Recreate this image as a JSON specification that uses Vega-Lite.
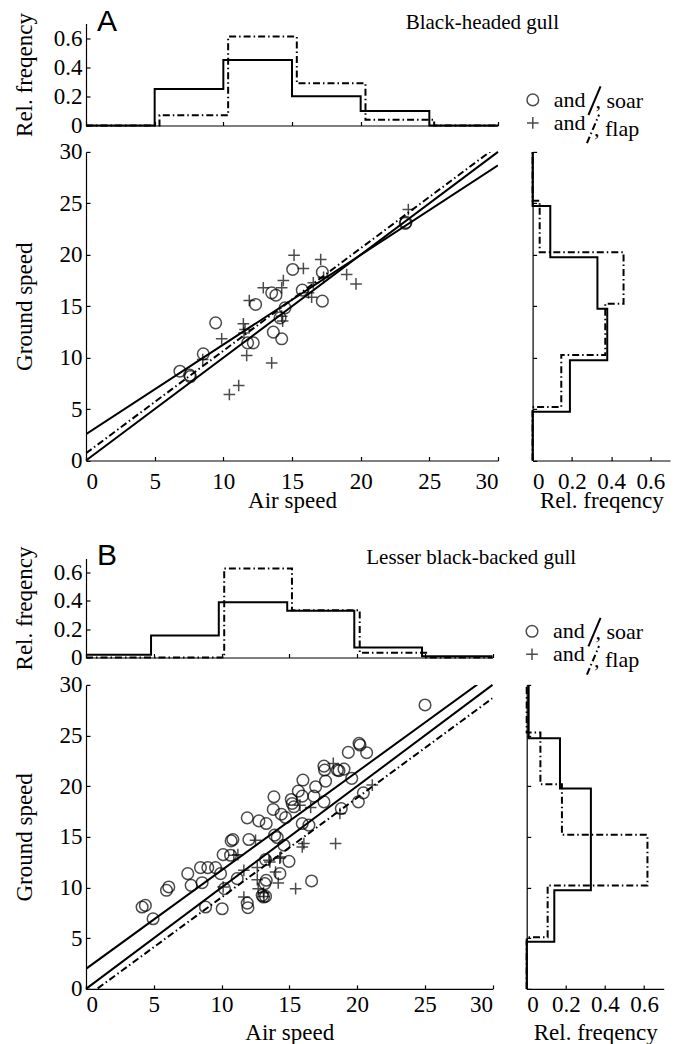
{
  "$schema": "https://vega.github.io/schema/vega-lite/v6.json",
  "background": "white",
  "padding": {"left": 13, "top": 6.5, "right": 2, "bottom": 0},
  "config": {
    "view": {"stroke": null},
    "font": "Liberation Serif",
    "axis": {"domainColor": "black", "tickColor": "black", "labelColor": "black", "titleColor": "black", "labelFont": "Liberation Serif", "titleFont": "Liberation Serif", "labelFontSize": 23, "titleFontSize": 23, "titleFontWeight": "normal", "grid": false, "tickSize": -4, "domainWidth": 1.2, "tickWidth": 1.2, "labelPadding": 8},
    "legend": {"labelFont": "Liberation Serif", "labelFontSize": 22, "labelColor": "black"},
    "title": {"font": "Liberation Serif", "fontSize": 21, "fontWeight": "normal", "color": "black"}
  },
  "datasets": {
    "topA": [
      {"type": "soar", "air": 0, "freq": 0}, {"type": "soar", "air": 5, "freq": 0.25}, {"type": "soar", "air": 10, "freq": 0.45}, {"type": "soar", "air": 15, "freq": 0.2}, {"type": "soar", "air": 20, "freq": 0.1}, {"type": "soar", "air": 25, "freq": 0}, {"type": "soar", "air": 30, "freq": 0},
      {"type": "flap", "air": 0, "freq": 0}, {"type": "flap", "air": 5.35, "freq": 0.07}, {"type": "flap", "air": 10.35, "freq": 0.61}, {"type": "flap", "air": 15.35, "freq": 0.29}, {"type": "flap", "air": 20.35, "freq": 0.04}, {"type": "flap", "air": 25.35, "freq": 0}, {"type": "flap", "air": 30, "freq": 0}
    ],
    "rightA": [
      {"type": "soar", "ground": 0, "freq": 0}, {"type": "soar", "ground": 4.75, "freq": 0.19}, {"type": "soar", "ground": 9.75, "freq": 0.38}, {"type": "soar", "ground": 14.75, "freq": 0.33}, {"type": "soar", "ground": 19.75, "freq": 0.09}, {"type": "soar", "ground": 24.75, "freq": 0}, {"type": "soar", "ground": 30, "freq": 0},
      {"type": "flap", "ground": 0, "freq": 0}, {"type": "flap", "ground": 5.2, "freq": 0.146}, {"type": "flap", "ground": 10.25, "freq": 0.37}, {"type": "flap", "ground": 15.25, "freq": 0.463}, {"type": "flap", "ground": 20.25, "freq": 0.036}, {"type": "flap", "ground": 25.25, "freq": 0}, {"type": "flap", "ground": 30, "freq": 0}
    ],
    "fitA": [
      {"fit": "soaring", "air": 0, "ground": 2.55}, {"fit": "soaring", "air": 30, "ground": 28.7},
      {"fit": "flapping", "air": 0, "ground": 0.7}, {"fit": "flapping", "air": 30, "ground": 30.6}
    ],
    "identity": [{"air": 0, "ground": 0}, {"air": 30, "ground": 30}],
    "scatA": [
      {"type": "soar", "air": 6.84, "ground": 8.68}, {"type": "soar", "air": 7.55, "ground": 8.3}, {"type": "soar", "air": 7.6, "ground": 8.15}, {"type": "soar", "air": 8.54, "ground": 10.37}, {"type": "soar", "air": 9.44, "ground": 13.38}, {"type": "soar", "air": 11.77, "ground": 11.44}, {"type": "soar", "air": 12.18, "ground": 11.44}, {"type": "soar", "air": 12.35, "ground": 15.17}, {"type": "soar", "air": 13.52, "ground": 16.3}, {"type": "soar", "air": 13.83, "ground": 16.07}, {"type": "soar", "air": 13.64, "ground": 12.48}, {"type": "soar", "air": 14.25, "ground": 11.83}, {"type": "soar", "air": 14.13, "ground": 13.87}, {"type": "soar", "air": 14.49, "ground": 14.84}, {"type": "soar", "air": 15.05, "ground": 18.57}, {"type": "soar", "air": 15.75, "ground": 16.56}, {"type": "soar", "air": 17.21, "ground": 18.31}, {"type": "soar", "air": 17.21, "ground": 15.49}, {"type": "soar", "air": 23.25, "ground": 23.05}, {"type": "soar", "air": 23.3, "ground": 23.15},
      {"type": "flap", "air": 8.5, "ground": 9.82}, {"type": "flap", "air": 9.88, "ground": 11.83}, {"type": "flap", "air": 10.44, "ground": 6.42}, {"type": "flap", "air": 11.12, "ground": 7.29}, {"type": "flap", "air": 11.46, "ground": 13.29}, {"type": "flap", "air": 11.58, "ground": 12.73}, {"type": "flap", "air": 11.7, "ground": 10.21}, {"type": "flap", "air": 11.89, "ground": 15.55}, {"type": "flap", "air": 12.91, "ground": 16.79}, {"type": "flap", "air": 13.52, "ground": 9.49}, {"type": "flap", "air": 14.25, "ground": 16.79}, {"type": "flap", "air": 14.37, "ground": 17.5}, {"type": "flap", "air": 14.25, "ground": 14.03}, {"type": "flap", "air": 14.32, "ground": 13.55}, {"type": "flap", "air": 15.15, "ground": 19.96}, {"type": "flap", "air": 15.83, "ground": 18.66}, {"type": "flap", "air": 16.43, "ground": 15.88}, {"type": "flap", "air": 16.55, "ground": 17.27}, {"type": "flap", "air": 17.09, "ground": 19.54}, {"type": "flap", "air": 18.98, "ground": 18.08}, {"type": "flap", "air": 19.66, "ground": 17.17}, {"type": "flap", "air": 23.47, "ground": 24.4}, {"type": "flap", "air": 11.5, "ground": 12.4}, {"type": "flap", "air": 16.2, "ground": 16.3}, {"type": "flap", "air": 17.3, "ground": 17.8}
    ],
    "topB": [
      {"type": "soar", "air": 0, "freq": 0.02}, {"type": "soar", "air": 4.8, "freq": 0.155}, {"type": "soar", "air": 9.8, "freq": 0.39}, {"type": "soar", "air": 14.85, "freq": 0.33}, {"type": "soar", "air": 19.8, "freq": 0.07}, {"type": "soar", "air": 24.8, "freq": 0.008}, {"type": "soar", "air": 30, "freq": 0.008},
      {"type": "flap", "air": 0, "freq": 0}, {"type": "flap", "air": 10.2, "freq": 0.63}, {"type": "flap", "air": 15.2, "freq": 0.334}, {"type": "flap", "air": 20.2, "freq": 0.033}, {"type": "flap", "air": 25.1, "freq": 0}, {"type": "flap", "air": 30, "freq": 0}
    ],
    "rightB": [
      {"type": "soar", "ground": 0, "freq": 0}, {"type": "soar", "ground": 4.65, "freq": 0.141}, {"type": "soar", "ground": 9.73, "freq": 0.328}, {"type": "soar", "ground": 14.73, "freq": 0.328}, {"type": "soar", "ground": 19.78, "freq": 0.17}, {"type": "soar", "ground": 24.73, "freq": 0.01}, {"type": "soar", "ground": 30, "freq": 0.01},
      {"type": "flap", "ground": 0, "freq": 0}, {"type": "flap", "ground": 5.1, "freq": 0.107}, {"type": "flap", "ground": 10.2, "freq": 0.617}, {"type": "flap", "ground": 15.2, "freq": 0.18}, {"type": "flap", "ground": 20.2, "freq": 0.07}, {"type": "flap", "ground": 25.3, "freq": 0}, {"type": "flap", "ground": 30, "freq": 0}
    ],
    "fitB": [
      {"fit": "soaring", "air": 0, "ground": 1.98}, {"fit": "soaring", "air": 30, "ground": 31.13},
      {"fit": "flapping", "air": 0, "ground": -0.8}, {"fit": "flapping", "air": 30, "ground": 28.68}
    ],
    "scatB": [
      {"type": "soar", "air": 4.14, "ground": 8.08}, {"type": "soar", "air": 4.38, "ground": 8.24}, {"type": "soar", "air": 4.95, "ground": 6.92}, {"type": "soar", "air": 5.94, "ground": 9.73}, {"type": "soar", "air": 6.11, "ground": 10.06}, {"type": "soar", "air": 7.51, "ground": 11.37}, {"type": "soar", "air": 7.76, "ground": 10.22}, {"type": "soar", "air": 8.45, "ground": 11.97}, {"type": "soar", "air": 8.57, "ground": 10.48}, {"type": "soar", "air": 8.99, "ground": 11.97}, {"type": "soar", "air": 9.56, "ground": 11.97}, {"type": "soar", "air": 9.93, "ground": 11.37}, {"type": "soar", "air": 8.82, "ground": 8.08}, {"type": "soar", "air": 10.05, "ground": 7.91}, {"type": "soar", "air": 10.12, "ground": 13.25}, {"type": "soar", "air": 10.22, "ground": 9.89}, {"type": "soar", "air": 10.67, "ground": 13.19}, {"type": "soar", "air": 10.71, "ground": 14.61}, {"type": "soar", "air": 10.84, "ground": 14.74}, {"type": "soar", "air": 11.16, "ground": 10.88}, {"type": "soar", "air": 11.9, "ground": 16.88}, {"type": "soar", "air": 12.02, "ground": 14.74}, {"type": "soar", "air": 11.9, "ground": 8.47}, {"type": "soar", "air": 11.95, "ground": 8.01}, {"type": "soar", "air": 12.76, "ground": 16.58}, {"type": "soar", "air": 13.3, "ground": 16.32}, {"type": "soar", "air": 13.25, "ground": 12.76}, {"type": "soar", "air": 13.3, "ground": 10.72}, {"type": "soar", "air": 13.2, "ground": 10.39}, {"type": "soar", "air": 13.0, "ground": 9.23}, {"type": "soar", "air": 13.25, "ground": 9.13}, {"type": "soar", "air": 13.1, "ground": 9.07}, {"type": "soar", "air": 13.82, "ground": 17.71}, {"type": "soar", "air": 13.87, "ground": 18.96}, {"type": "soar", "air": 13.92, "ground": 15.17}, {"type": "soar", "air": 14.11, "ground": 14.94}, {"type": "soar", "air": 14.31, "ground": 11.37}, {"type": "soar", "air": 14.41, "ground": 17.24}, {"type": "soar", "air": 14.61, "ground": 14.18}, {"type": "soar", "air": 14.73, "ground": 16.91}, {"type": "soar", "air": 14.98, "ground": 12.59}, {"type": "soar", "air": 15.15, "ground": 18.69}, {"type": "soar", "air": 15.22, "ground": 18.3}, {"type": "soar", "air": 15.34, "ground": 17.97}, {"type": "soar", "air": 15.67, "ground": 19.52}, {"type": "soar", "air": 15.96, "ground": 19.02}, {"type": "soar", "air": 16.01, "ground": 20.61}, {"type": "soar", "air": 15.96, "ground": 16.32}, {"type": "soar", "air": 16.45, "ground": 16.16}, {"type": "soar", "air": 16.65, "ground": 10.65}, {"type": "soar", "air": 16.95, "ground": 19.95}, {"type": "soar", "air": 16.82, "ground": 19.02}, {"type": "soar", "air": 17.56, "ground": 21.99}, {"type": "soar", "air": 17.61, "ground": 21.6}, {"type": "soar", "air": 17.68, "ground": 20.51}, {"type": "soar", "air": 17.56, "ground": 18.46}, {"type": "soar", "air": 18.55, "ground": 21.6}, {"type": "soar", "air": 18.67, "ground": 21.53}, {"type": "soar", "air": 19.04, "ground": 21.69}, {"type": "soar", "air": 18.84, "ground": 17.8}, {"type": "soar", "air": 19.36, "ground": 23.34}, {"type": "soar", "air": 19.61, "ground": 20.77}, {"type": "soar", "air": 20.15, "ground": 24.23}, {"type": "soar", "air": 20.22, "ground": 24.07}, {"type": "soar", "air": 20.1, "ground": 18.46}, {"type": "soar", "air": 20.47, "ground": 19.35}, {"type": "soar", "air": 20.71, "ground": 23.31}, {"type": "soar", "air": 25.02, "ground": 28.02},
      {"type": "flap", "air": 10.12, "ground": 10.06}, {"type": "flap", "air": 10.91, "ground": 13.19}, {"type": "flap", "air": 11.21, "ground": 13.25}, {"type": "flap", "air": 11.65, "ground": 11.7}, {"type": "flap", "air": 11.65, "ground": 9.07}, {"type": "flap", "air": 12.51, "ground": 14.67}, {"type": "flap", "air": 12.64, "ground": 11.97}, {"type": "flap", "air": 12.64, "ground": 10.78}, {"type": "flap", "air": 12.71, "ground": 9.89}, {"type": "flap", "air": 13.13, "ground": 9.13}, {"type": "flap", "air": 13.5, "ground": 12.69}, {"type": "flap", "air": 13.57, "ground": 12.53}, {"type": "flap", "air": 13.99, "ground": 11.54}, {"type": "flap", "air": 14.19, "ground": 10.45}, {"type": "flap", "air": 14.36, "ground": 13.02}, {"type": "flap", "air": 15.47, "ground": 9.89}, {"type": "flap", "air": 15.96, "ground": 14.01}, {"type": "flap", "air": 16.08, "ground": 14.34}, {"type": "flap", "air": 15.79, "ground": 18.13}, {"type": "flap", "air": 16.58, "ground": 17.9}, {"type": "flap", "air": 18.42, "ground": 14.34}, {"type": "flap", "air": 18.25, "ground": 22.25}, {"type": "flap", "air": 18.74, "ground": 17.31}, {"type": "flap", "air": 21.13, "ground": 20.11}, {"type": "flap", "air": 13.1, "ground": 9.5}, {"type": "flap", "air": 14.3, "ground": 12.9}
    ]
  },
  "spacing": 28,
  "resolve": {"scale": {"shape": "independent", "strokeDash": "independent", "opacity": "independent"}, "legend": {"shape": "independent", "strokeDash": "independent", "opacity": "independent"}},
  "vconcat": [
    {
      "columns": 2, "align": "each", "bounds": "flush",
      "spacing": {"row": 26.4, "column": 34.6},
      "resolve": {"scale": {"shape": "independent", "strokeDash": "independent", "opacity": "independent"}, "legend": {"shape": "independent", "strokeDash": "independent", "opacity": "independent"}},
      "concat": [
        {
          "width": 412, "height": 102,
          "title": {"text": "A", "anchor": "start", "frame": "group", "font": "Liberation Sans", "fontSize": 30, "dx": 11, "offset": -24.5},
          "data": {"name": "topA"},
          "mark": {"type": "line", "interpolate": "step-after", "color": "black", "strokeWidth": 2},
          "encoding": {
            "x": {"field": "air", "type": "quantitative", "scale": {"domain": [0, 30], "nice": false}, "axis": {"values": [0, 5, 10, 15, 20, 25, 30], "labels": false, "title": null}},
            "y": {"field": "freq", "type": "quantitative", "scale": {"domain": [0, 0.7], "nice": false}, "axis": {"values": [0, 0.2, 0.4, 0.6], "labelExpr": "datum.value == 0 ? '0' : format(datum.value, '.1f')", "title": "Rel. freqency", "titlePadding": 17}},
            "strokeDash": {"field": "type", "type": "nominal", "scale": {"domain": ["soar", "flap"], "range": [[1, 0], [7, 3, 1.5, 3]]}, "legend": null}
          }
        },
        {
          "width": 137.5, "height": 102,
          "title": {"text": "Black-headed gull", "anchor": "middle", "frame": "group", "dx": -119, "offset": -9},
          "data": {"values": []},
          "mark": "point"
        },
        {
          "width": 412, "height": 308.6,
          "layer": [
            {
              "data": {"name": "identity"},
              "mark": {"type": "line", "color": "black", "strokeWidth": 2},
              "encoding": {
                "x": {"field": "air", "type": "quantitative", "scale": {"domain": [0, 30], "nice": false}, "axis": {"values": [0, 5, 10, 15, 20, 25, 30], "title": "Air speed", "labelPadding": 14, "titlePadding": -4}},
                "y": {"field": "ground", "type": "quantitative", "scale": {"domain": [0, 30], "nice": false}, "axis": {"values": [0, 5, 10, 15, 20, 25, 30], "title": "Ground speed", "titlePadding": 23}}
              }
            },
            {
              "data": {"name": "fitA"},
              "transform": [{"filter": "datum.fit == 'soaring'"}],
              "mark": {"type": "line", "color": "black", "strokeWidth": 2, "clip": true},
              "encoding": {
                "x": {"field": "air", "type": "quantitative"},
                "y": {"field": "ground", "type": "quantitative"},
                "opacity": {"field": "fit", "type": "nominal", "scale": {"domain": ["soaring"], "range": [1]},
                  "legend": {"orient": "none", "legendX": 496.5, "legendY": -63.2, "title": null, "padding": 0, "symbolType": "M-0.55,1.3L0.55,-1.3", "symbolSize": 484, "symbolStrokeWidth": 2, "symbolStrokeColor": "black", "labelExpr": "', soar'", "labelOffset": -11}}
              }
            },
            {
              "data": {"name": "fitA"},
              "transform": [{"filter": "datum.fit == 'flapping'"}],
              "mark": {"type": "line", "color": "black", "strokeWidth": 2, "clip": true},
              "encoding": {
                "x": {"field": "air", "type": "quantitative"},
                "y": {"field": "ground", "type": "quantitative"},
                "strokeDash": {"field": "fit", "type": "nominal", "scale": {"domain": ["flapping"], "range": [[7, 3, 1.5, 3]]},
                  "legend": {"orient": "none", "legendX": 495, "legendY": -35, "title": null, "padding": 0, "symbolType": "M-0.55,1.3L0.55,-1.3", "symbolSize": 484, "symbolStrokeWidth": 2, "symbolStrokeColor": "black", "labelExpr": "', flap'", "labelOffset": -11}}
              }
            },
            {
              "data": {"name": "scatA"},
              "mark": {"type": "point", "filled": false, "size": 135, "strokeWidth": 1.5, "color": "black"},
              "encoding": {
                "x": {"field": "air", "type": "quantitative"},
                "y": {"field": "ground", "type": "quantitative"},
                "shape": {"field": "type", "type": "nominal", "scale": {"domain": ["soar", "flap"], "range": ["circle", "M-1,0H1M0,-1V1"]},
                  "legend": {"orient": "none", "legendX": 435.8, "legendY": -63, "title": null, "padding": 0, "labelExpr": "'and'", "symbolSize": 135, "symbolStrokeWidth": 1.5, "symbolStrokeColor": "black", "labelOffset": 10, "rowPadding": 1}}
              }
            }
          ]
        },
        {
          "width": 137.5, "height": 308.6,
          "data": {"name": "rightA"},
          "mark": {"type": "line", "interpolate": "step-before", "color": "black", "strokeWidth": 2},
          "encoding": {
            "x": {"field": "freq", "type": "quantitative", "scale": {"domain": [0, 0.7], "nice": false}, "axis": {"values": [0, 0.2, 0.4, 0.6], "labelExpr": "datum.value == 0 ? '0' : format(datum.value, '.1f')", "title": "Rel. freqency", "labelPadding": 14, "titlePadding": -4}},
            "y": {"field": "ground", "type": "quantitative", "scale": {"domain": [0, 30], "nice": false}, "axis": {"values": [0, 5, 10, 15, 20, 25, 30], "labels": false, "title": null}},
            "order": {"field": "ground", "type": "quantitative"},
            "strokeDash": {"field": "type", "type": "nominal", "scale": {"domain": ["soar", "flap"], "range": [[1, 0], [7, 3, 1.5, 3]]}, "legend": null}
          }
        }
      ]
    },
    {
      "columns": 2, "align": "each", "bounds": "flush",
      "spacing": {"row": 27.4, "column": 33.7},
      "resolve": {"scale": {"shape": "independent", "strokeDash": "independent", "opacity": "independent"}, "legend": {"shape": "independent", "strokeDash": "independent", "opacity": "independent"}},
      "concat": [
        {
          "width": 406.5, "height": 99,
          "title": {"text": "B", "anchor": "start", "frame": "group", "font": "Liberation Sans", "fontSize": 30, "dx": 11, "offset": -24.5},
          "data": {"name": "topB"},
          "mark": {"type": "line", "interpolate": "step-after", "color": "black", "strokeWidth": 2},
          "encoding": {
            "x": {"field": "air", "type": "quantitative", "scale": {"domain": [0, 30], "nice": false}, "axis": {"values": [0, 5, 10, 15, 20, 25, 30], "labels": false, "title": null}},
            "y": {"field": "freq", "type": "quantitative", "scale": {"domain": [0, 0.7], "nice": false}, "axis": {"values": [0, 0.2, 0.4, 0.6], "labelExpr": "datum.value == 0 ? '0' : format(datum.value, '.1f')", "title": "Rel. freqency", "titlePadding": 17}},
            "strokeDash": {"field": "type", "type": "nominal", "scale": {"domain": ["soar", "flap"], "range": [[1, 0], [7, 3, 1.5, 3]]}, "legend": null}
          }
        },
        {
          "width": 137, "height": 99,
          "title": {"text": "Lesser black-backed gull", "anchor": "middle", "frame": "group", "dx": -124, "offset": -9},
          "data": {"values": []},
          "mark": "point"
        },
        {
          "width": 406.5, "height": 304,
          "layer": [
            {
              "data": {"name": "identity"},
              "mark": {"type": "line", "color": "black", "strokeWidth": 2},
              "encoding": {
                "x": {"field": "air", "type": "quantitative", "scale": {"domain": [0, 30], "nice": false}, "axis": {"values": [0, 5, 10, 15, 20, 25, 30], "title": "Air speed", "labelPadding": 9, "titlePadding": 5}},
                "y": {"field": "ground", "type": "quantitative", "scale": {"domain": [0, 30], "nice": false}, "axis": {"values": [0, 5, 10, 15, 20, 25, 30], "title": "Ground speed", "titlePadding": 23}}
              }
            },
            {
              "data": {"name": "fitB"},
              "transform": [{"filter": "datum.fit == 'soaring'"}],
              "mark": {"type": "line", "color": "black", "strokeWidth": 2, "clip": true},
              "encoding": {
                "x": {"field": "air", "type": "quantitative"},
                "y": {"field": "ground", "type": "quantitative"},
                "opacity": {"field": "fit", "type": "nominal", "scale": {"domain": ["soaring"], "range": [1]},
                  "legend": {"orient": "none", "legendX": 496.5, "legendY": -64.8, "title": null, "padding": 0, "symbolType": "M-0.55,1.3L0.55,-1.3", "symbolSize": 484, "symbolStrokeWidth": 2, "symbolStrokeColor": "black", "labelExpr": "', soar'", "labelOffset": -11}}
              }
            },
            {
              "data": {"name": "fitB"},
              "transform": [{"filter": "datum.fit == 'flapping'"}],
              "mark": {"type": "line", "color": "black", "strokeWidth": 2, "clip": true},
              "encoding": {
                "x": {"field": "air", "type": "quantitative"},
                "y": {"field": "ground", "type": "quantitative"},
                "strokeDash": {"field": "fit", "type": "nominal", "scale": {"domain": ["flapping"], "range": [[7, 3, 1.5, 3]]},
                  "legend": {"orient": "none", "legendX": 495, "legendY": -36.6, "title": null, "padding": 0, "symbolType": "M-0.55,1.3L0.55,-1.3", "symbolSize": 484, "symbolStrokeWidth": 2, "symbolStrokeColor": "black", "labelExpr": "', flap'", "labelOffset": -11}}
              }
            },
            {
              "data": {"name": "scatB"},
              "mark": {"type": "point", "filled": false, "size": 135, "strokeWidth": 1.5, "color": "black"},
              "encoding": {
                "x": {"field": "air", "type": "quantitative"},
                "y": {"field": "ground", "type": "quantitative"},
                "shape": {"field": "type", "type": "nominal", "scale": {"domain": ["soar", "flap"], "range": ["circle", "M-1,0H1M0,-1V1"]},
                  "legend": {"orient": "none", "legendX": 435, "legendY": -64.6, "title": null, "padding": 0, "labelExpr": "'and'", "symbolSize": 135, "symbolStrokeWidth": 1.5, "symbolStrokeColor": "black", "labelOffset": 10, "rowPadding": 1}}
              }
            }
          ]
        },
        {
          "width": 137, "height": 304,
          "data": {"name": "rightB"},
          "mark": {"type": "line", "interpolate": "step-before", "color": "black", "strokeWidth": 2},
          "encoding": {
            "x": {"field": "freq", "type": "quantitative", "scale": {"domain": [0, 0.7], "nice": false}, "axis": {"values": [0, 0.2, 0.4, 0.6], "labelExpr": "datum.value == 0 ? '0' : format(datum.value, '.1f')", "title": "Rel. freqency", "labelPadding": 9, "titlePadding": 5}},
            "y": {"field": "ground", "type": "quantitative", "scale": {"domain": [0, 30], "nice": false}, "axis": {"values": [0, 5, 10, 15, 20, 25, 30], "labels": false, "title": null}},
            "order": {"field": "ground", "type": "quantitative"},
            "strokeDash": {"field": "type", "type": "nominal", "scale": {"domain": ["soar", "flap"], "range": [[1, 0], [7, 3, 1.5, 3]]}, "legend": null}
          }
        }
      ]
    }
  ]
}
